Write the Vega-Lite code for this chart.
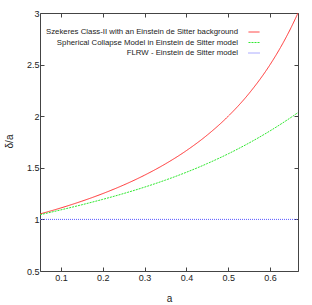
{
  "$schema": "https://vega.github.io/schema/vega-lite/v6.json",
  "autosize": "none",
  "width": 258,
  "height": 258,
  "padding": {"left": 40, "top": 13, "right": 14, "bottom": 34},
  "background": "white",
  "config": {
    "view": {"stroke": "#444", "strokeWidth": 1},
    "font": "Liberation Sans",
    "axis": {"grid": false, "domain": false, "tickColor": "#444", "tickSize": -4, "labelFont": "Liberation Sans", "labelFontSize": 9, "labelColor": "#222", "titleFont": "Liberation Sans", "titleFontSize": 10, "titleFontWeight": "normal", "titleColor": "#222"}
  },
  "data": {"values": [
    {"a": 0.05, "v": 1.0526, "s": "Szekeres Class-II with an Einstein de Sitter background"},
    {"a": 0.1, "v": 1.1111, "s": "Szekeres Class-II with an Einstein de Sitter background"},
    {"a": 0.15, "v": 1.1765, "s": "Szekeres Class-II with an Einstein de Sitter background"},
    {"a": 0.2, "v": 1.25, "s": "Szekeres Class-II with an Einstein de Sitter background"},
    {"a": 0.25, "v": 1.3333, "s": "Szekeres Class-II with an Einstein de Sitter background"},
    {"a": 0.3, "v": 1.4286, "s": "Szekeres Class-II with an Einstein de Sitter background"},
    {"a": 0.35, "v": 1.5385, "s": "Szekeres Class-II with an Einstein de Sitter background"},
    {"a": 0.4, "v": 1.6667, "s": "Szekeres Class-II with an Einstein de Sitter background"},
    {"a": 0.45, "v": 1.8182, "s": "Szekeres Class-II with an Einstein de Sitter background"},
    {"a": 0.5, "v": 2.0, "s": "Szekeres Class-II with an Einstein de Sitter background"},
    {"a": 0.55, "v": 2.2222, "s": "Szekeres Class-II with an Einstein de Sitter background"},
    {"a": 0.6, "v": 2.5, "s": "Szekeres Class-II with an Einstein de Sitter background"},
    {"a": 0.625, "v": 2.6667, "s": "Szekeres Class-II with an Einstein de Sitter background"},
    {"a": 0.65, "v": 2.8571, "s": "Szekeres Class-II with an Einstein de Sitter background"},
    {"a": 0.6667, "v": 3.0, "s": "Szekeres Class-II with an Einstein de Sitter background"},
    {"a": 0.05, "v": 1.045, "s": "Spherical Collapse Model in Einstein de Sitter model"},
    {"a": 0.1, "v": 1.0924, "s": "Spherical Collapse Model in Einstein de Sitter model"},
    {"a": 0.15, "v": 1.1418, "s": "Spherical Collapse Model in Einstein de Sitter model"},
    {"a": 0.2, "v": 1.1942, "s": "Spherical Collapse Model in Einstein de Sitter model"},
    {"a": 0.25, "v": 1.2508, "s": "Spherical Collapse Model in Einstein de Sitter model"},
    {"a": 0.3, "v": 1.3127, "s": "Spherical Collapse Model in Einstein de Sitter model"},
    {"a": 0.35, "v": 1.3811, "s": "Spherical Collapse Model in Einstein de Sitter model"},
    {"a": 0.4, "v": 1.4569, "s": "Spherical Collapse Model in Einstein de Sitter model"},
    {"a": 0.45, "v": 1.5414, "s": "Spherical Collapse Model in Einstein de Sitter model"},
    {"a": 0.5, "v": 1.6357, "s": "Spherical Collapse Model in Einstein de Sitter model"},
    {"a": 0.55, "v": 1.7409, "s": "Spherical Collapse Model in Einstein de Sitter model"},
    {"a": 0.6, "v": 1.8581, "s": "Spherical Collapse Model in Einstein de Sitter model"},
    {"a": 0.65, "v": 1.9884, "s": "Spherical Collapse Model in Einstein de Sitter model"},
    {"a": 0.6667, "v": 2.035, "s": "Spherical Collapse Model in Einstein de Sitter model"},
    {"a": 0.05, "v": 1.0, "s": "FLRW - Einstein de Sitter model"},
    {"a": 0.6667, "v": 1.0, "s": "FLRW - Einstein de Sitter model"}
  ]},
  "layer": [
    {
      "mark": {"type": "line", "strokeWidth": 1, "interpolate": "monotone", "clip": true},
      "encoding": {
        "x": {"field": "a", "type": "quantitative", "scale": {"domain": [0.05, 0.6667], "nice": false, "zero": false}, "axis": {"values": [0.1, 0.2, 0.3, 0.4, 0.5, 0.6], "format": "~g", "title": "a", "labelPadding": 6, "titlePadding": 11}},
        "y": {"field": "v", "type": "quantitative", "scale": {"domain": [0.5, 3], "nice": false, "zero": false}, "axis": {"values": [0.5, 1, 1.5, 2, 2.5, 3], "format": "~g", "title": "δ/a", "labelPadding": 5, "titleX": -31, "titleY": 128, "titleAlign": "center", "titleBaseline": "middle", "titleAngle": -90}},
        "color": {"field": "s", "type": "nominal", "scale": {"domain": ["Szekeres Class-II with an Einstein de Sitter background", "Spherical Collapse Model in Einstein de Sitter model", "FLRW - Einstein de Sitter model"], "range": ["#ff3030", "#30e830", "#5a5aff"]},
          "legend": {"title": null, "orient": "none", "legendX": 208, "legendY": 13, "symbolType": "M-1,0H1", "symbolSize": 121, "symbolStrokeWidth": 1, "labelAlign": "right", "labelOffset": -22, "labelLimit": 400, "labelFont": "Liberation Sans", "labelFontSize": 7.8, "labelColor": "#222", "rowPadding": 0.5, "padding": 0}},
        "strokeDash": {"field": "s", "type": "nominal", "scale": {"domain": ["Szekeres Class-II with an Einstein de Sitter background", "Spherical Collapse Model in Einstein de Sitter model", "FLRW - Einstein de Sitter model"], "range": [[1, 0], [2, 1], [1, 1]]}, "legend": null}
      }
    },
    {
      "mark": {"type": "line", "strokeWidth": 1, "strokeOpacity": 0},
      "encoding": {
        "x": {"field": "a", "type": "quantitative", "axis": {"orient": "top", "values": [0.1, 0.2, 0.3, 0.4, 0.5, 0.6], "labels": false, "title": null}},
        "y": {"field": "v", "type": "quantitative", "axis": {"orient": "right", "values": [0.5, 1, 1.5, 2, 2.5, 3], "labels": false, "title": null}},
        "detail": {"field": "s", "type": "nominal"}
      }
    }
  ],
  "resolve": {"axis": {"x": "independent", "y": "independent"}}
}
